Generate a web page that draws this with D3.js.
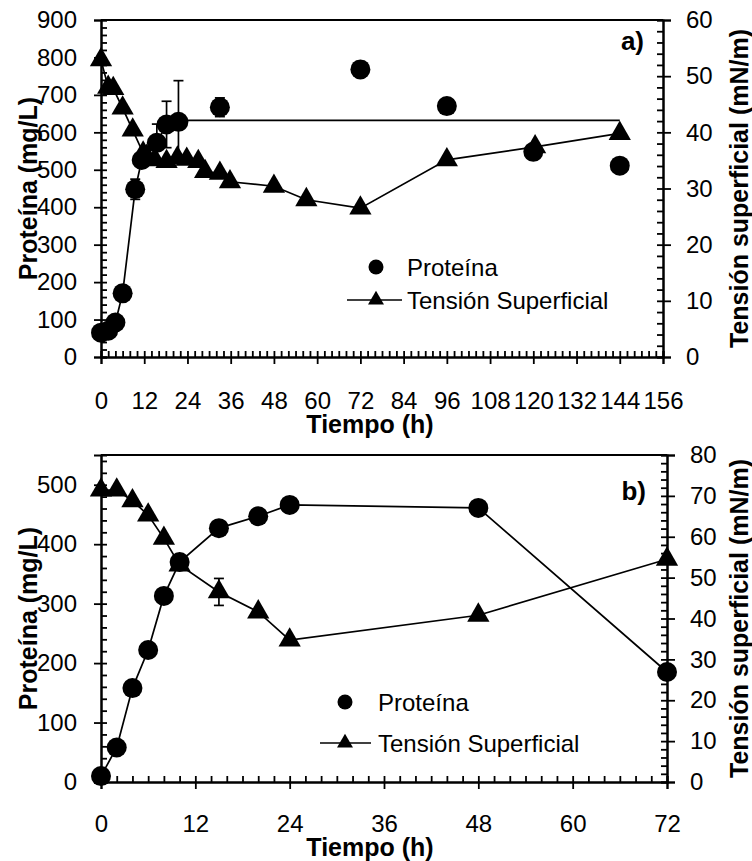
<!DOCTYPE html>
<html><head><meta charset="utf-8">
<script src="https://cdn.jsdelivr.net/npm/d3@7"></script>
<style>body{margin:0;background:#fff}svg{display:block}</style>
</head><body>
<script>
// ---------- Panel a data ----------
const protA_t   = [0, 2, 4, 6, 9.5, 11.3, 15.5, 18.2, 21.5, 33, 72, 96, 120, 144];
const protA_v   = [65, 70, 92, 170, 448, 526, 572, 621, 628, 667, 768, 670, 548, 511];
const protA_err = [0, 0, 0, 0, 27, 0, 50, 62, 110, 25, 21, 0, 0, 0];
const protLineA_t = [0, 2, 4, 6, 9.5, 11.3, 15.5, 18.2, 21.5, 144];
const protLineA_v = [62, 70, 92, 170, 448, 526, 572, 621, 632, 632];
const tsA_t = [0, 2, 3.4, 6, 8.8, 11.7, 12.7, 15, 18.2, 21.2, 23.8, 27, 28.9, 33, 35.8, 48, 57, 72, 96, 120.5, 144];
const tsA_v = [52.9, 48.0, 47.8, 44.3, 40.4, 36.3, 35.7, 35.1, 34.8, 35.4, 35.2, 34.8, 33.0, 32.7, 31.2, 30.4, 28.0, 26.5, 35.1, 37.4, 39.8];
const xTicksA = [0, 12, 24, 36, 48, 60, 72, 84, 96, 108, 120, 132, 144, 156];
const yTicksA = [0, 100, 200, 300, 400, 500, 600, 700, 800, 900];
const y2TicksA = [0, 10, 20, 30, 40, 50, 60];

// ---------- Panel b data ----------
const protB_t = [0, 2, 4, 6, 8, 10, 15, 20, 24, 48, 72];
const protB_v = [10, 58, 158, 222, 313, 370, 427, 447, 466, 461, 185];
const tsB_t = [0, 2, 4, 6, 8, 10, 15, 20, 24, 48, 72];
const tsB_v = [71.4, 71.4, 68.8, 65.3, 59.6, 53.1, 46.5, 41.6, 34.7, 40.8, 54.5];
const tsB_err = [0, 0, 0, 0, 0, 0, 3.3, 0, 0, 0, 0];
const xTicksB = [0, 12, 24, 36, 48, 60, 72];
const yTicksB = [0, 100, 200, 300, 400, 500];
const y2TicksB = [0, 10, 20, 30, 40, 50, 60, 70, 80];

const W = 752, H = 861;
const svg = d3.select("body").append("svg").attr("width", W).attr("height", H);
const FONT = "'Liberation Sans', Arial, sans-serif";

function range(a, b, s) { const r = []; for (let v = a; v <= b + 1e-9; v += s) r.push(+v.toFixed(6)); return r; }

function panel(cfg) {
  const g = svg.append("g");
  const x = d3.scaleLinear().domain(cfg.xDom).range([cfg.left, cfg.right]);
  const y = d3.scaleLinear().domain(cfg.yDom).range([cfg.bottom, cfg.top]);
  const y2 = d3.scaleLinear().domain(cfg.y2Dom).range([cfg.bottom, cfg.top]);

  const style = sel => {
    sel.selectAll("path.domain").attr("stroke", "#000").attr("stroke-width", 2);
    sel.selectAll("line").attr("stroke", "#000").attr("stroke-width", 1.8);
    sel.selectAll("text").attr("font-family", FONT).attr("font-size", 24).attr("fill", "#000");
  };

  // top border
  g.append("line").attr("x1", cfg.left).attr("x2", cfg.right).attr("y1", cfg.top).attr("y2", cfg.top)
    .attr("stroke", "#000").attr("stroke-width", 2);

  // left axis: minor inside, major crossing + labels
  g.append("g").attr("transform", `translate(${cfg.left},0)`)
    .call(d3.axisRight(y).tickValues(range(cfg.yDom[0], cfg.yDom[1], cfg.yMinor)).tickSize(6).tickFormat("")).call(style);
  g.append("g").attr("transform", `translate(${cfg.left},0)`)
    .call(d3.axisLeft(y).tickValues(cfg.yTicks).tickSize(7).tickPadding(17)).call(style);

  // right axis
  g.append("g").attr("transform", `translate(${cfg.right},0)`)
    .call(d3.axisLeft(y2).tickValues(range(cfg.y2Dom[0], cfg.y2Dom[1], cfg.y2Minor)).tickSize(6).tickFormat("")).call(style);
  g.append("g").attr("transform", `translate(${cfg.right},0)`)
    .call(d3.axisRight(y2).tickValues(cfg.y2Ticks).tickSize(8).tickPadding(15)).call(style);

  // bottom axis
  g.append("g").attr("transform", `translate(0,${cfg.bottom})`)
    .call(d3.axisTop(x).tickValues(range(cfg.xDom[0], cfg.xDom[1], 2)).tickSize(6).tickFormat("")).call(style);
  g.append("g").attr("transform", `translate(0,${cfg.bottom})`)
    .call(d3.axisBottom(x).tickValues(cfg.xTicks).tickSize(7).tickPadding(cfg.xPad)).call(style);

  // axis titles
  const tt = (txt, tx, ty, rot) => g.append("text").attr("transform", `translate(${tx},${ty}) rotate(${rot})`)
    .attr("text-anchor", "middle").attr("dominant-baseline", "central")
    .attr("font-family", FONT).attr("font-weight", "bold").attr("font-size", 25).text(txt);
  const cy = (cfg.top + cfg.bottom) / 2;
  tt("Proteína (mg/L)", 28, cy, -90);
  tt("Tensión superficial  (mN/m)", 739, cy, -90);
  tt("Tiempo (h)", cfg.titleX, cfg.titleY, 0);

  // panel letter
  g.append("text").attr("x", cfg.letterX).attr("y", cfg.letterY).attr("text-anchor", "end")
    .attr("font-family", FONT).attr("font-weight", "bold").attr("font-size", 26).text(cfg.letter);

  // protein line
  if (cfg.protLine) {
    g.append("path").datum(d3.zip(cfg.protLine[0], cfg.protLine[1]))
      .attr("d", d3.line().x(d => x(d[0])).y(d => y(d[1])))
      .attr("fill", "none").attr("stroke", "#000").attr("stroke-width", 1.7);
  }
  // tension line
  g.append("path").datum(d3.zip(cfg.ts[0], cfg.ts[1]))
    .attr("d", d3.line().x(d => x(d[0])).y(d => y2(d[1])))
    .attr("fill", "none").attr("stroke", "#000").attr("stroke-width", 1.7);

  // error bars
  const eb = (data, sc) => {
    data.filter(d => d[2] > 0).forEach(d => {
      const px = x(d[0]), y1 = sc(d[1] - d[2]), y2v = sc(d[1] + d[2]);
      g.append("line").attr("x1", px).attr("x2", px).attr("y1", y1).attr("y2", y2v).attr("stroke", "#000").attr("stroke-width", 1.7);
      [y1, y2v].forEach(yy => g.append("line").attr("x1", px - 5).attr("x2", px + 5).attr("y1", yy).attr("y2", yy).attr("stroke", "#000").attr("stroke-width", 1.7));
    });
  };
  eb(d3.zip(cfg.prot[0], cfg.prot[1], cfg.prot[2]), y);
  eb(d3.zip(cfg.ts[0], cfg.ts[1], cfg.ts[2]), y2);

  // markers
  const tri = d3.symbol().type(d3.symbolTriangle).size(215);
  g.selectAll(null).data(d3.zip(cfg.ts[0], cfg.ts[1])).join("path")
    .attr("d", tri).attr("transform", d => `translate(${x(d[0])},${y2(d[1])})`).attr("fill", "#000");
  g.selectAll(null).data(d3.zip(cfg.prot[0], cfg.prot[1])).join("circle")
    .attr("cx", d => x(d[0])).attr("cy", d => y(d[1])).attr("r", 10).attr("fill", "#000");

  // legend
  const L = cfg.legend;
  g.append("circle").attr("cx", L.mx).attr("cy", L.y1).attr("r", 7.5).attr("fill", "#000");
  g.append("line").attr("x1", L.lx1).attr("x2", L.lx2).attr("y1", L.y2).attr("y2", L.y2).attr("stroke", "#000").attr("stroke-width", 1.7);
  g.append("path").attr("d", d3.symbol().type(d3.symbolTriangle).size(110)).attr("transform", `translate(${L.mx},${L.y2})`).attr("fill", "#000");
  [["Proteína", L.y1], ["Tensión Superficial", L.y2]].forEach(([t, yy]) =>
    g.append("text").attr("x", L.tx).attr("y", yy).attr("dominant-baseline", "central")
      .attr("font-family", FONT).attr("font-size", 24).text(t));
}

panel({
  left: 101, right: 663, top: 20, bottom: 357,
  xDom: [0, 156], yDom: [0, 900], y2Dom: [0, 60], yMinor: 20, y2Minor: 2,
  xTicks: xTicksA, yTicks: yTicksA, y2Ticks: y2TicksA, xPad: 28,
  titleX: 370, titleY: 424, letter: "a)", letterX: 644, letterY: 50,
  prot: [protA_t, protA_v, protA_err], protLine: [protLineA_t, protLineA_v],
  ts: [tsA_t, tsA_v, tsA_t.map(() => 0)],
  legend: { mx: 376, lx1: 347, lx2: 402, tx: 407, y1: 267, y2: 300 }
});

panel({
  left: 101, right: 667, top: 455, bottom: 782,
  xDom: [0, 72], yDom: [0, 550], y2Dom: [0, 80], yMinor: 20, y2Minor: 2,
  xTicks: xTicksB, yTicks: yTicksB, y2Ticks: y2TicksB, xPad: 26,
  titleX: 370, titleY: 847, letter: "b)", letterX: 646, letterY: 500,
  prot: [protB_t, protB_v, protB_t.map(() => 0)], protLine: [protB_t, protB_v],
  ts: [tsB_t, tsB_v, tsB_err],
  legend: { mx: 345, lx1: 320, lx2: 371, tx: 378, y1: 702, y2: 743 }
});
</script>
</body></html>
